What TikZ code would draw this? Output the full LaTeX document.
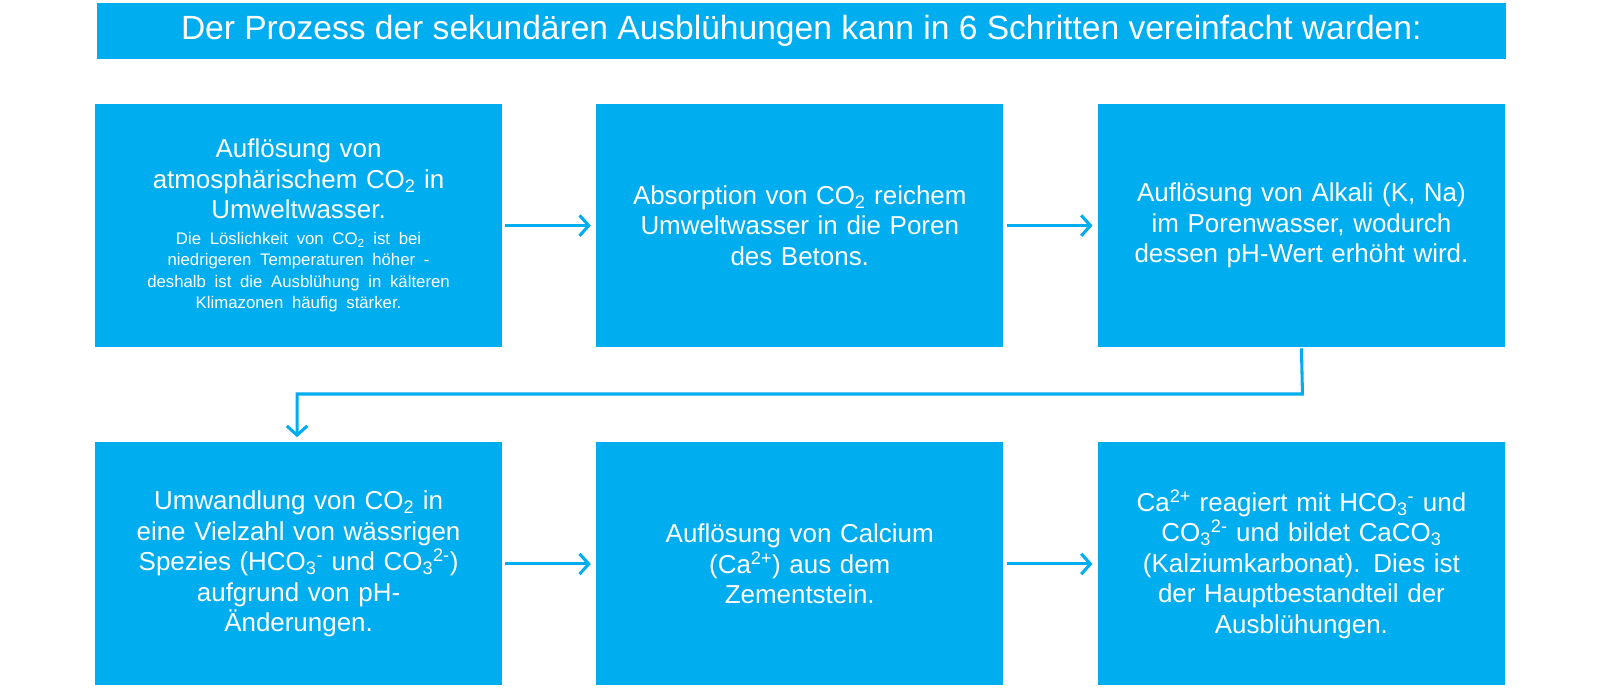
\documentclass[tikz,border=0pt]{standalone}
\usepackage{fontspec}
\setmainfont{Liberation Sans}
\usetikzlibrary{arrows.meta}
\definecolor{cblue}{HTML}{00ADEF}
\begin{document}
\begin{tikzpicture}[x=1bp,y=-1bp,
  box/.style={fill=cblue,draw=none,minimum width=399bp,minimum height=238bp,text=white,align=center,text width=385bp,font=\fontsize{25.5}{30}\selectfont,inner sep=0pt},
  conn/.style={draw=cblue,line width=3bp,-{Straight Barb[length=9bp,width=20bp,line width=3bp]}}]
\fill[white] (0,0) rectangle (1567.5,675);
\useasboundingbox (0,0) rectangle (1567.5,675);
\node[fill=cblue,minimum width=1380bp,minimum height=55bp,inner sep=0pt,text=white,font=\fontsize{33}{36}\selectfont] (title) at (785,30.5) {Der Prozess der sekundären Ausblühungen kann in 6 Schritten vereinfacht warden:};
\node[box] (b1) at (292.5,221) {\parbox[t]{385bp}{\centering Auflösung von\\atmosphärischem CO\textsubscript{2} in\\Umweltwasser.\par\vspace{4bp}\fontsize{16.5}{21}\selectfont Die Löslichkeit von CO\textsubscript{2} ist bei\\niedrigeren Temperaturen höher -\\deshalb ist die Ausblühung in kälteren\\Klimazonen häufig stärker.\par}};
\node[box] (b2) at (783.5,221) {Absorption von CO\textsubscript{2} reichem\\Umweltwasser in die Poren\\des Betons.};
\node[box] (b3) at (1275,221) {Auflösung von Alkali (K, Na)\\im Porenwasser, wodurch\\dessen pH-Wert erhöht wird.};
\node[box] (b4) at (292.5,552.5) {Umwandlung von CO\textsubscript{2} in\\eine Vielzahl von wässrigen\\Spezies (HCO\textsubscript{3}\textsuperscript{-} und CO\textsubscript{3}\textsuperscript{2-})\\aufgrund von pH-\\Änderungen.};
\node[box] (b5) at (783.5,552.5) {Auflösung von Calcium\\(Ca\textsuperscript{2+}) aus dem\\Zementstein.};
\node[box] (b6) at (1275,552.5) {Ca\textsuperscript{2+} reagiert mit HCO\textsubscript{3}\textsuperscript{-} und\\CO\textsubscript{3}\textsuperscript{2-} und bildet CaCO\textsubscript{3}\\(Kalziumkarbonat). Dies ist\\der Hauptbestandteil der\\Ausblühungen.};
\coordinate (c1) at (1276,386);
\coordinate (c2) at (291,386);
\draw[conn] ([xshift=3bp]b1.east) -- ([xshift=-5bp]b2.west);
\draw[conn] ([xshift=3bp]b2.east) -- ([xshift=-5bp]b3.west);
\draw[conn] ([xshift=3bp]b4.east) -- ([xshift=-5bp]b5.west);
\draw[conn] ([xshift=3bp]b5.east) -- ([xshift=-5bp]b6.west);
\draw[conn] ([yshift=-1bp]b3.south) -- (c1) -- (c2) -- ([yshift=5bp,xshift=-1.5bp]b4.north);
\end{tikzpicture}
\end{document}
